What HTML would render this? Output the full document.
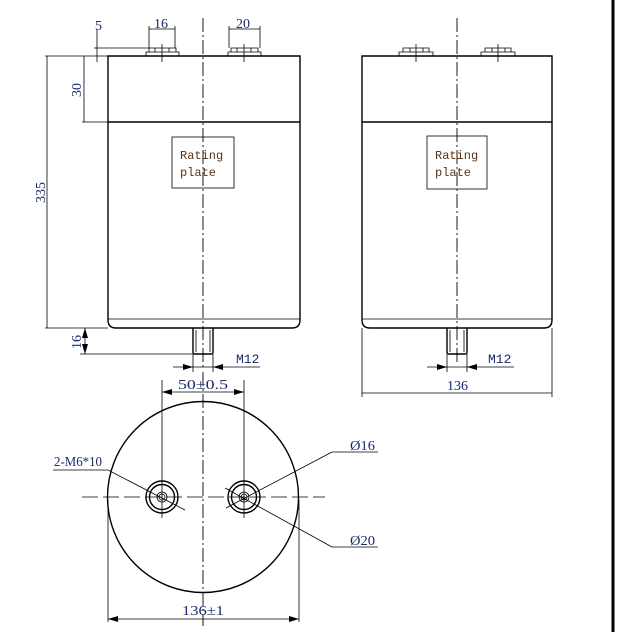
<!DOCTYPE html>
<html><head><meta charset="utf-8"><style>
html,body{margin:0;padding:0;background:#fff;}
svg{display:block;}
text{font-family:"Liberation Serif","Noto Serif CJK SC",serif;font-size:14px;fill:#1a2a6a;}
.m{font-family:"Liberation Mono","Noto Serif CJK SC",monospace;font-size:12px;}
.b{stroke:#000;stroke-width:1.4;fill:none;}
.t{stroke:#000;stroke-width:0.8;fill:none;}
.c{stroke:#000;stroke-width:0.9;fill:none;stroke-dasharray:14 3 2 3;}
.p{fill:#5a3214;}
</style></head><body>
<svg width="620" height="632" viewBox="0 0 620 632" xmlns="http://www.w3.org/2000/svg">
<defs>
<marker id="a" viewBox="0 0 10 6" refX="10" refY="3" markerWidth="10" markerHeight="6" orient="auto-start-reverse" markerUnits="userSpaceOnUse"><path d="M0,0 L10,3 L0,6 z" fill="#000"/></marker>
</defs>
<line x1="613" y1="0" x2="613" y2="632" stroke="#000" stroke-width="3"/>

<!-- LEFT VIEW -->
<path class="b" d="M108,56 H300 V320 Q300,328 292,328 H116 Q108,328 108,320 Z"/>
<line class="b" x1="108" y1="122" x2="300" y2="122"/>
<line class="t" x1="108" y1="319" x2="300" y2="319"/>
<rect class="t" x="172" y="137" width="62" height="51"/>
<text class="p m" x="180" y="159">Rating</text>
<text class="p m" x="180" y="176">plate</text>
<line class="c" x1="203" y1="18" x2="203" y2="370"/>
<path class="t" d="M146,56 V52 H179 V56 M149,52 V48 H176 V52 M155,48 V52 M169,48 V52"/>
<line class="t" x1="162" y1="44" x2="162" y2="62"/>
<path class="t" d="M228,56 V52 H261 V56 M231,52 V48 H258 V52 M237,48 V52 M251,48 V52"/>
<line class="t" x1="244" y1="44" x2="244" y2="62"/>
<path class="b" d="M193,328 V352 Q193,354 195,354 H211 Q213,354 213,352 V328"/>
<line class="t" x1="196" y1="330" x2="196" y2="352"/><line class="t" x1="210" y1="330" x2="210" y2="352"/>
<line class="t" x1="149" y1="26" x2="149" y2="48"/><line class="t" x1="175" y1="26" x2="175" y2="48"/>
<line class="t" x1="149" y1="29" x2="175" y2="29"/>
<text x="154" y="28">16</text>
<line class="t" x1="229" y1="26" x2="229" y2="48"/><line class="t" x1="260" y1="26" x2="260" y2="48"/>
<line class="t" x1="229" y1="29" x2="260" y2="29"/>
<text x="236" y="28">20</text>
<line class="t" x1="97" y1="30" x2="97" y2="62"/>
<line class="t" x1="94" y1="48" x2="149" y2="48"/>
<text x="95" y="30">5</text>
<line class="t" x1="45" y1="56" x2="108" y2="56"/>
<line class="t" x1="45" y1="328" x2="108" y2="328"/>
<line class="t" x1="47" y1="56" x2="47" y2="328"/>
<text transform="translate(45,203) rotate(-90)">335</text>
<line class="t" x1="84" y1="56" x2="84" y2="122"/>
<line class="t" x1="82" y1="122" x2="108" y2="122"/>
<text transform="translate(81,97) rotate(-90)">30</text>
<line class="t" x1="85" y1="328" x2="85" y2="354" marker-start="url(#a)" marker-end="url(#a)"/>
<line class="t" x1="80" y1="354" x2="193" y2="354"/>
<text transform="translate(81,349) rotate(-90)">16</text>
<line class="t" x1="193" y1="354" x2="193" y2="372"/><line class="t" x1="213" y1="354" x2="213" y2="372"/>
<line class="t" x1="173" y1="367" x2="193" y2="367" marker-end="url(#a)"/>
<line class="t" x1="193" y1="367" x2="213" y2="367"/>
<line class="t" x1="260" y1="367" x2="213" y2="367" marker-end="url(#a)"/>
<text class="m" x="236" y="363" style="font-size:13px">M12</text>

<!-- RIGHT VIEW -->
<path class="b" d="M362,56 H552 V320 Q552,328 544,328 H370 Q362,328 362,320 Z"/>
<line class="b" x1="362" y1="122" x2="552" y2="122"/>
<line class="t" x1="362" y1="319" x2="552" y2="319"/>
<rect class="t" x="427" y="136" width="60" height="53"/>
<text class="p m" x="435" y="159">Rating</text>
<text class="p m" x="435" y="176">plate</text>
<line class="c" x1="457" y1="18" x2="457" y2="362"/>
<path class="t" d="M399,56 V52 H433 V56 M403,52 V48 H429 V52 M410,48 V52 M423,48 V52"/>
<line class="t" x1="416" y1="44" x2="416" y2="62"/>
<path class="t" d="M481,56 V52 H515 V56 M485,52 V48 H511 V52 M492,48 V52 M505,48 V52"/>
<line class="t" x1="498" y1="44" x2="498" y2="62"/>
<path class="b" d="M447,328 V352 Q447,354 449,354 H465 Q467,354 467,352 V328"/>
<line class="t" x1="450" y1="330" x2="450" y2="352"/><line class="t" x1="464" y1="330" x2="464" y2="352"/>
<line class="t" x1="447" y1="354" x2="447" y2="372"/><line class="t" x1="467" y1="354" x2="467" y2="372"/>
<line class="t" x1="427" y1="367" x2="447" y2="367" marker-end="url(#a)"/>
<line class="t" x1="447" y1="367" x2="467" y2="367"/>
<line class="t" x1="514" y1="367" x2="467" y2="367" marker-end="url(#a)"/>
<text class="m" x="488" y="363" style="font-size:13px">M12</text>
<line class="t" x1="362" y1="328" x2="362" y2="397"/><line class="t" x1="552" y1="328" x2="552" y2="397"/>
<line class="t" x1="362" y1="393" x2="552" y2="393"/>
<text x="447" y="390">136</text>

<!-- BOTTOM VIEW -->
<circle class="b" cx="203" cy="497" r="95.5"/>
<line class="t" x1="82" y1="497" x2="325" y2="497" stroke-dasharray="16 5"/>
<line class="c" x1="203" y1="372" x2="203" y2="626"/>
<line class="t" x1="162" y1="380" x2="162" y2="518"/>
<line class="t" x1="244" y1="380" x2="244" y2="518"/>
<line class="t" x1="162" y1="392" x2="244" y2="392" marker-start="url(#a)" marker-end="url(#a)"/>
<text x="178" y="389" textLength="50" lengthAdjust="spacingAndGlyphs">50±0.5</text>
<circle class="b" cx="162" cy="497" r="16"/><circle class="b" cx="162" cy="497" r="12.5"/>
<circle class="t" cx="162" cy="497" r="5"/><circle class="t" cx="162" cy="497" r="3"/>
<circle class="b" cx="244" cy="497" r="16"/><circle class="b" cx="244" cy="497" r="12.5"/>
<circle class="t" cx="244" cy="497" r="5"/><circle class="t" cx="244" cy="497" r="3"/>
<text x="54" y="466" textLength="48" lengthAdjust="spacingAndGlyphs">2-M6*10</text>
<line class="t" x1="53" y1="470" x2="108" y2="470"/>
<line class="t" x1="108" y1="470" x2="185" y2="510"/>
<text x="350" y="450" textLength="25" lengthAdjust="spacingAndGlyphs">Ø16</text>
<line class="t" x1="332" y1="452" x2="378" y2="452"/>
<line class="t" x1="332" y1="452" x2="226" y2="508"/>
<text x="350" y="545" textLength="25" lengthAdjust="spacingAndGlyphs">Ø20</text>
<line class="t" x1="332" y1="547" x2="378" y2="547"/>
<line class="t" x1="332" y1="547" x2="225" y2="488"/>
<line class="t" x1="108" y1="500" x2="108" y2="622"/><line class="t" x1="299" y1="500" x2="299" y2="622"/>
<line class="t" x1="108" y1="619" x2="299" y2="619" marker-start="url(#a)" marker-end="url(#a)"/>
<text x="182" y="615" textLength="42" lengthAdjust="spacingAndGlyphs">136±1</text>
</svg>
</body></html>
